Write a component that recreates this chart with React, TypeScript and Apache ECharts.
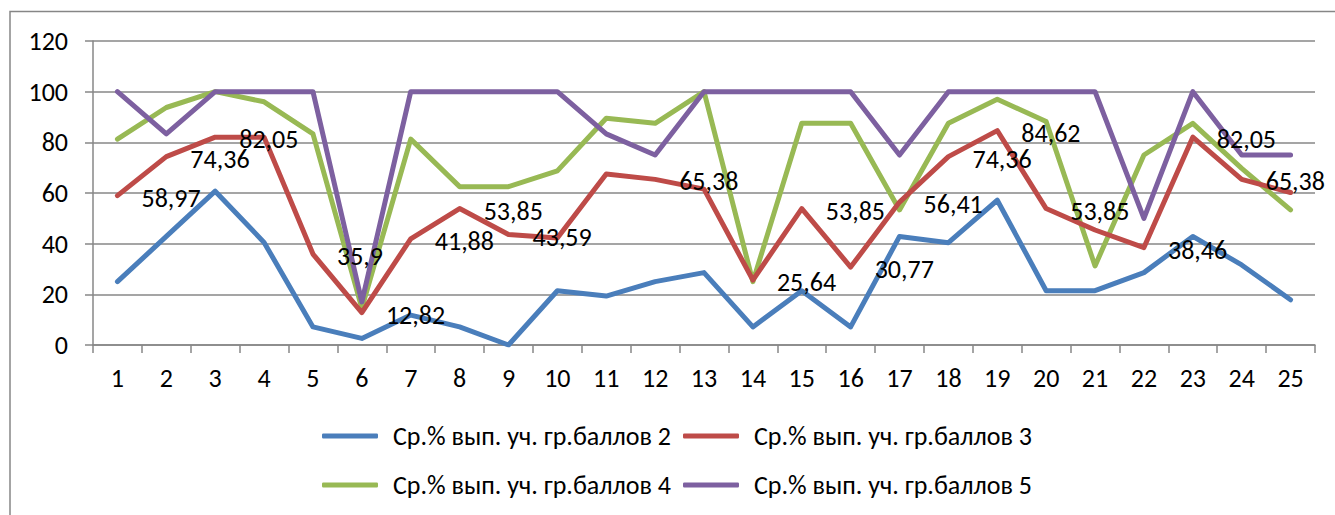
import React, { useEffect, useRef } from "react";
import * as echarts from "echarts";

const categories = ["1","2","3","4","5","6","7","8","9","10","11","12","13","14","15","16","17","18","19","20","21","22","23","24","25"];

const seriesNames = [
  "Ср.% вып. уч. гр.баллов 2",
  "Ср.% вып. уч. гр.баллов 3",
  "Ср.% вып. уч. гр.баллов 4",
  "Ср.% вып. уч. гр.баллов 5",
];

const score2 = [25, 42.86, 60.71, 40.5, 7.14, 2.6, 11.8, 7.14, 0, 21.43, 19.3, 25, 28.57, 7.14, 21.43, 7.14, 42.86, 40.4, 57.14, 21.43, 21.43, 28.57, 42.86, 31.6, 17.86];
const score3 = [58.97, 74.36, 82.05, 82.05, 35.9, 12.82, 41.88, 53.85, 43.59, 42.2, 67.5, 65.38, 61.54, 25.64, 53.85, 30.77, 56.41, 74.36, 84.62, 53.85, 45.4, 38.46, 82.05, 65.38, 60.2];
const score4 = [81.25, 93.75, 100, 96, 83.33, 14.6, 81.25, 62.5, 62.5, 68.75, 89.5, 87.5, 100, 25, 87.5, 87.5, 53.33, 87.5, 97, 88.2, 31.2, 75, 87.5, 69.7, 53.33];
const score5 = [100, 83.33, 100, 100, 100, 17, 100, 100, 100, 100, 83.33, 75, 100, 100, 100, 100, 75, 100, 100, 100, 100, 50, 100, 75, 75];

// categories (1-based) whose value label on series 3 is not shown
const score3HiddenLabels = [4, 10, 11, 13, 21, 25];

const yTicks = [0, 20, 40, 60, 80, 100, 120];

const colors = ["#4A7EBB", "#BE4B48", "#98B954", "#7D60A0"];
const FONT = "Carlito, Calibri, 'Open Sans', sans-serif";

export default function App() {
  const ref = useRef<HTMLDivElement>(null);
  useEffect(() => {
    if (!ref.current) return;
    const chart = echarts.init(ref.current, null, { renderer: "svg" });
    const lineBase = (name: string, data: any[], color: string) => ({
      name,
      type: "line",
      data,
      symbol: "circle",
      symbolSize: 0.1,
      showSymbol: true,
      itemStyle: { color },
      lineStyle: { color, width: 5, cap: "round", join: "round" },
      emphasis: { disabled: true },
      z: 2,
    });
    const s3data = score3.map((v, i) =>
      score3HiddenLabels.includes(i + 1) ? { value: v, label: { show: false } } : v
    );
    const legendCommon = {
      itemWidth: 56,
      itemHeight: 5,
      icon: "roundRect",
      padding: 0,
      textStyle: { fontFamily: FONT, fontSize: 26, color: "#000", padding: [0, 0, 0, 10] },
    };
    chart.setOption({
      animation: false,
      graphic: [
        {
          type: "rect",
          shape: { x: 10, y: 11.5, width: 1340, height: 520 },
          style: { fill: "none", stroke: "#868686", lineWidth: 1.5 },
          silent: true,
        },
      ],
      legend: [
        { ...legendCommon, data: [seriesNames[0]], left: 322, top: 423 },
        { ...legendCommon, data: [seriesNames[1]], left: 683, top: 423 },
        { ...legendCommon, data: [seriesNames[2]], left: 322, top: 472 },
        { ...legendCommon, data: [seriesNames[3]], left: 683, top: 472 },
      ],
      grid: { left: 93, top: 41, width: 1222, height: 304, containLabel: false },
      xAxis: {
        type: "category",
        data: categories,
        boundaryGap: true,
        axisLine: { lineStyle: { color: "#878787", width: 1.5 } },
        axisTick: { show: true, length: 8, lineStyle: { color: "#878787", width: 1.5 } },
        axisLabel: { fontFamily: FONT, fontSize: 26, color: "#000", margin: 20 },
        splitLine: { show: false },
      },
      yAxis: {
        type: "value",
        min: yTicks[0],
        max: yTicks[yTicks.length - 1],
        interval: 20,
        axisLine: { show: true, lineStyle: { color: "#878787", width: 1.5 } },
        axisTick: { show: true, length: 8, lineStyle: { color: "#878787", width: 1.5 } },
        axisLabel: { fontFamily: FONT, fontSize: 26, color: "#000", margin: 25 },
        splitLine: { show: true, lineStyle: { color: "#878787", width: 1.5 } },
      },
      series: [
        lineBase(seriesNames[0], score2, colors[0]),
        {
          ...lineBase(seriesNames[1], s3data, colors[1]),
          label: {
            show: true,
            position: "right",
            distance: 24,
            offset: [0, 2],
            fontFamily: FONT,
            fontSize: 26,
            color: "#000",
            formatter: (p: any) => String(p.value).replace(".", ","),
          },
          z: 5,
        },
        lineBase(seriesNames[2], score4, colors[2]),
        lineBase(seriesNames[3], score5, colors[3]),
      ],
    });
    return () => chart.dispose();
  }, []);
  return (
    <div
      ref={ref}
      style={{ position: "fixed", left: 0, top: 0, width: 1335, height: 515, background: "#fff" }}
    />
  );
}
